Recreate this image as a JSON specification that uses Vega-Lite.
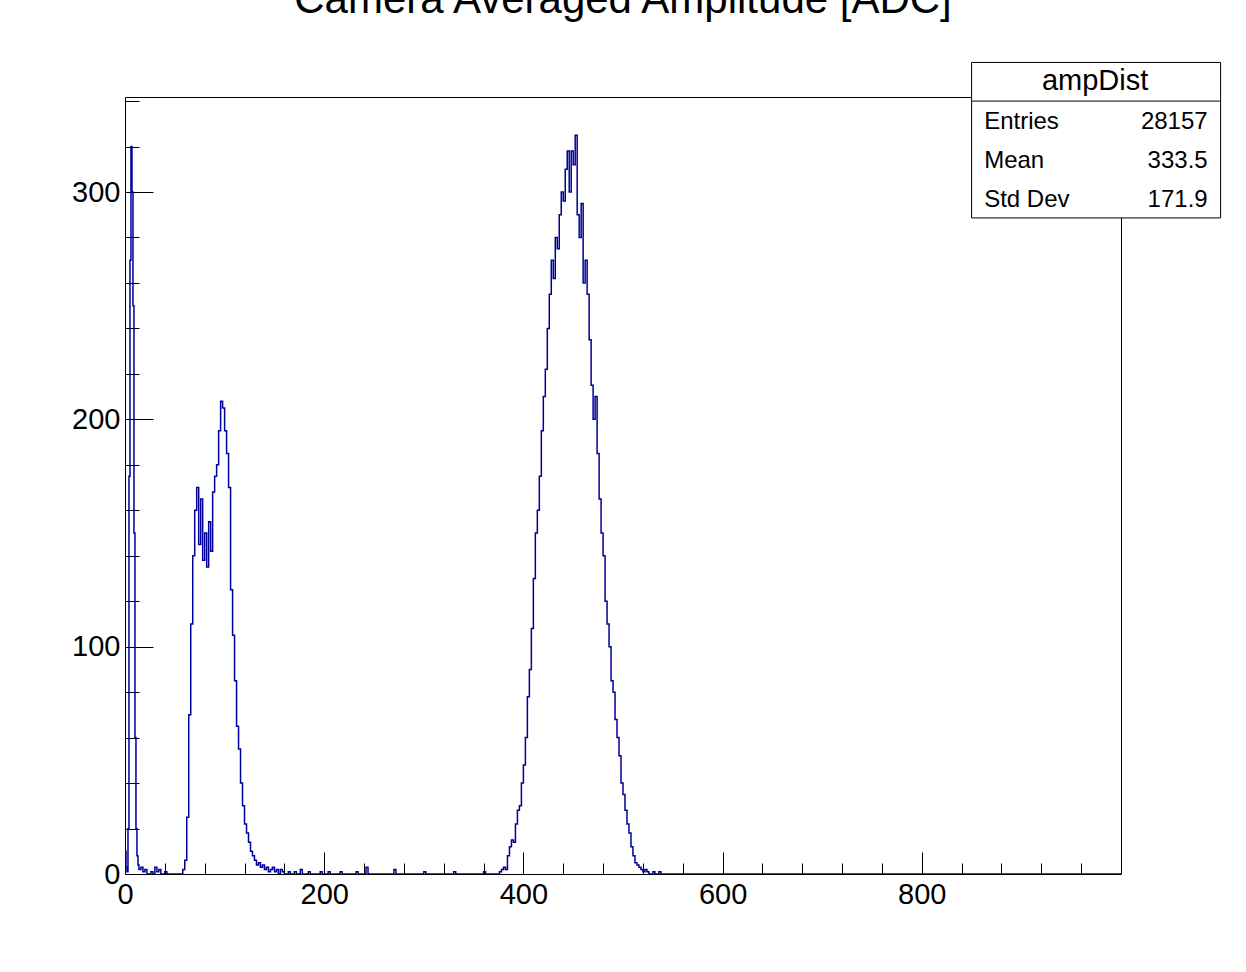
{
  "$schema": "https://vega.github.io/schema/vega-lite/v6.json",
  "width": 996,
  "height": 777,
  "autosize": "none",
  "padding": {"left": 125, "top": 97, "right": 125, "bottom": 98},
  "background": "white",
  "config": {"view": {"stroke": "black", "strokeWidth": 1}, "font": "Liberation Sans"},
  "title": {"text": "Camera Averaged Amplitude [ADC]", "fontSize": 42, "fontWeight": "normal", "font": "Liberation Sans", "anchor": "middle", "offset": 40, "color": "black"},
  "datasets": {
    "hist": [
      {"x":0,"n":10},{"x":1,"n":3},{"x":2,"n":1},{"x":3,"n":20},{"x":4,"n":175},{"x":5,"n":270},{"x":6,"n":320},{"x":7,"n":300},{"x":8,"n":250},{"x":9,"n":150},{"x":10,"n":60},{"x":11,"n":20},{"x":12,"n":8},{"x":13,"n":4},{"x":14,"n":2},{"x":16,"n":3},{"x":18,"n":1},{"x":20,"n":2},{"x":22,"n":0},{"x":26,"n":1},{"x":28,"n":0},{"x":30,"n":3},{"x":32,"n":1},{"x":34,"n":2},{"x":36,"n":0},{"x":40,"n":1},{"x":42,"n":0},
      {"x":58,"n":2},{"x":60,"n":6},{"x":62,"n":25},{"x":64,"n":70},{"x":66,"n":110},{"x":68,"n":140},{"x":70,"n":160},{"x":72,"n":170},{"x":74,"n":145},{"x":76,"n":165},{"x":78,"n":138},{"x":80,"n":150},{"x":82,"n":135},{"x":84,"n":155},{"x":86,"n":142},{"x":88,"n":168},{"x":90,"n":175},{"x":92,"n":180},{"x":94,"n":195},{"x":96,"n":208},{"x":98,"n":205},{"x":100,"n":195},{"x":102,"n":185},{"x":104,"n":170},{"x":106,"n":125},{"x":108,"n":105},{"x":110,"n":85},{"x":112,"n":65},{"x":114,"n":55},{"x":116,"n":40},{"x":118,"n":30},{"x":120,"n":22},{"x":122,"n":18},{"x":124,"n":14},{"x":126,"n":10},{"x":128,"n":8},{"x":130,"n":6},{"x":132,"n":4},{"x":134,"n":5},{"x":136,"n":3},{"x":138,"n":4},{"x":140,"n":2},{"x":142,"n":3},{"x":144,"n":1},{"x":146,"n":2},{"x":148,"n":3},{"x":150,"n":1},{"x":152,"n":2},{"x":154,"n":0},{"x":156,"n":2},{"x":158,"n":1},{"x":160,"n":0},{"x":164,"n":1},{"x":166,"n":0},{"x":170,"n":1},{"x":172,"n":0},{"x":176,"n":2},{"x":178,"n":0},{"x":184,"n":1},{"x":186,"n":0},{"x":196,"n":1},{"x":198,"n":0},{"x":204,"n":1},{"x":206,"n":0},{"x":216,"n":1},{"x":218,"n":0},{"x":232,"n":1},{"x":234,"n":0},{"x":242,"n":3},{"x":244,"n":0},{"x":270,"n":2},{"x":272,"n":0},{"x":300,"n":1},{"x":302,"n":0},{"x":330,"n":1},{"x":332,"n":0},{"x":360,"n":1},{"x":362,"n":0},
      {"x":376,"n":1},{"x":378,"n":2},{"x":380,"n":3},{"x":382,"n":2},{"x":384,"n":8},{"x":386,"n":12},{"x":388,"n":15},{"x":390,"n":14},{"x":392,"n":22},{"x":394,"n":28},{"x":396,"n":30},{"x":398,"n":40},{"x":400,"n":48},{"x":402,"n":60},{"x":404,"n":78},{"x":406,"n":90},{"x":408,"n":108},{"x":410,"n":130},{"x":412,"n":150},{"x":414,"n":160},{"x":416,"n":175},{"x":418,"n":195},{"x":420,"n":210},{"x":422,"n":222},{"x":424,"n":240},{"x":426,"n":255},{"x":428,"n":270},{"x":430,"n":262},{"x":432,"n":280},{"x":434,"n":275},{"x":436,"n":290},{"x":438,"n":300},{"x":440,"n":296},{"x":442,"n":310},{"x":444,"n":318},{"x":446,"n":300},{"x":448,"n":318},{"x":450,"n":312},{"x":452,"n":325},{"x":454,"n":290},{"x":456,"n":280},{"x":458,"n":295},{"x":460,"n":260},{"x":462,"n":270},{"x":464,"n":255},{"x":466,"n":235},{"x":468,"n":215},{"x":470,"n":200},{"x":472,"n":210},{"x":474,"n":185},{"x":476,"n":165},{"x":478,"n":150},{"x":480,"n":140},{"x":482,"n":120},{"x":484,"n":110},{"x":486,"n":100},{"x":488,"n":85},{"x":490,"n":80},{"x":492,"n":68},{"x":494,"n":60},{"x":496,"n":52},{"x":498,"n":40},{"x":500,"n":35},{"x":502,"n":28},{"x":504,"n":22},{"x":506,"n":18},{"x":508,"n":12},{"x":510,"n":8},{"x":512,"n":5},{"x":514,"n":4},{"x":516,"n":3},{"x":518,"n":2},{"x":520,"n":1},{"x":522,"n":2},{"x":524,"n":1},{"x":526,"n":0},{"x":530,"n":1},{"x":532,"n":0},{"x":536,"n":1},{"x":538,"n":0},{"x":1000,"n":0}
    ],
    "stats": [
      {"label":"Entries","value":"28157","y":330.8},
      {"label":"Mean","value":"333.5","y":313.7},
      {"label":"Std Dev","value":"171.9","y":296.5}
    ]
  },
  "layer": [
    {
      "data": {"name": "hist"},
      "mark": {"type": "line", "interpolate": "step-after", "color": "#000099", "strokeWidth": 1.5, "clip": true},
      "encoding": {
        "x": {"field": "x", "type": "quantitative", "scale": {"domain": [0, 1000], "nice": false},
          "axis": {"title": null, "values": [0,20,40,60,80,100,120,140,160,180,200,220,240,260,280,300,320,340,360,380,400,420,440,460,480,500,520,540,560,580,600,620,640,660,680,700,720,740,760,780,800,820,840,860,880,900,920,940,960,980],
            "labelExpr": "datum.value % 100 === 0 ? datum.label : ''",
            "tickSize": {"condition": {"test": "datum.value % 100 === 0", "value": -22}, "value": -11},
            "tickColor": "black", "domain": false, "grid": false, "labelFontSize": 29, "labelColor": "black", "labelPadding": 28, "labelFont": "Liberation Sans", "labelFlush": false, "labelOverlap": false}},
        "y": {"field": "n", "type": "quantitative", "scale": {"domain": [0, 341.8], "nice": false},
          "axis": {"title": null, "values": [0,10,20,30,40,50,60,70,80,90,100,110,120,130,140,150,160,170,180,190,200,210,220,230,240,250,260,270,280,290,300,310,320,330,340],
            "labelExpr": "datum.value % 50 === 0 ? datum.label : ''",
            "tickSize": {"condition": {"test": "datum.value % 50 === 0", "value": -28}, "value": -14},
            "tickColor": "black", "domain": false, "grid": false, "labelFontSize": 29, "labelColor": "black", "labelPadding": 33, "labelFont": "Liberation Sans", "labelOverlap": false}}
      }
    },
    {
      "data": {"values": [{}]},
      "mark": {"type": "rect", "fill": "white", "stroke": "black", "strokeWidth": 1, "clip": false},
      "encoding": {"x": {"datum": 850, "type": "quantitative"}, "x2": {"datum": 1100}, "y": {"datum": 288.6, "type": "quantitative"}, "y2": {"datum": 357}}
    },
    {
      "data": {"values": [{}]},
      "mark": {"type": "rule", "color": "black", "strokeWidth": 1, "clip": false},
      "encoding": {"x": {"datum": 850, "type": "quantitative"}, "x2": {"datum": 1100}, "y": {"datum": 340, "type": "quantitative"}}
    },
    {
      "data": {"values": [{"t": "ampDist"}]},
      "mark": {"type": "text", "fontSize": 29, "font": "Liberation Sans", "align": "center", "baseline": "middle", "color": "black", "clip": false},
      "encoding": {"text": {"field": "t"}, "x": {"datum": 974, "type": "quantitative"}, "y": {"datum": 349, "type": "quantitative"}}
    },
    {
      "data": {"name": "stats"},
      "mark": {"type": "text", "fontSize": 24, "font": "Liberation Sans", "align": "left", "baseline": "middle", "color": "black", "clip": false},
      "encoding": {"text": {"field": "label"}, "x": {"datum": 862.6, "type": "quantitative"}, "y": {"field": "y", "type": "quantitative"}}
    },
    {
      "data": {"name": "stats"},
      "mark": {"type": "text", "fontSize": 24, "font": "Liberation Sans", "align": "right", "baseline": "middle", "color": "black", "clip": false},
      "encoding": {"text": {"field": "value"}, "x": {"datum": 1087, "type": "quantitative"}, "y": {"field": "y", "type": "quantitative"}}
    }
  ]
}
